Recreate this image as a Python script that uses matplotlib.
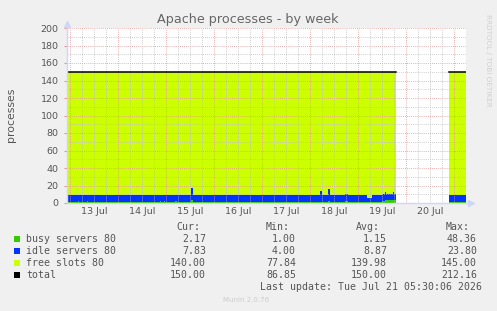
import numpy as np
import matplotlib
matplotlib.use('Agg')
import matplotlib.pyplot as plt
from matplotlib.transforms import blended_transform_factory

# Hours since 13 Jul 00:00, each value holds until the next breakpoint
hours = [-1.5, 4, 4.5, 8.5, 9, 45, 45.5, 47, 47.5, 52.5, 53.5, 60.5, 61.5,
         125, 126, 129, 130, 137.5, 139, 148.5, 151, 156, 157.5, 158,
         161.5, 162, 163, 189.5]
end_hour = 198

busy = [1.0, 2.0, 1.0, 2.0, 1.0, 2.0, 1.0, 2.0, 1.0, 2.5, 1.0, 4.0, 1.0,
        1.2, 1.0, 2.3, 1.0, 2.3, 1.0, 1.0, 1.0, 2.8, 3.5, 3.0,
        4.0, 3.0, np.nan, 1.2]
idle = [8.6, 7.6, 8.6, 7.6, 8.6, 7.6, 8.6, 7.6, 8.6, 7.1, 8.6, 13.0, 8.6,
        12.0, 8.6, 13.3, 8.6, 8.3, 8.6, 4.7, 7.8, 7.4, 9.5, 7.5,
        9.0, 7.5, np.nan, 8.3]
total = [150.0] * 26 + [np.nan, 150.0]

day_labels = ['13 Jul', '14 Jul', '15 Jul', '16 Jul', '17 Jul', '18 Jul', '19 Jul', '20 Jul']

legend_names = ['busy servers 80', 'idle servers 80', 'free slots 80', 'total']
legend_colors = ['#33CC00', '#0033FF', '#CCFF00', '#000000']
cur_vals = ['2.17', '7.83', '140.00', '150.00']
min_vals = ['1.00', '4.00', '77.84', '86.85']
avg_vals = ['1.15', '8.87', '139.98', '150.00']
max_vals = ['48.36', '23.80', '145.00', '212.16']

# step arrays
t = np.array(hours + [end_hour], dtype=float)
xs = np.repeat(t, 2)[1:-1]
b = np.repeat(np.array(busy), 2)
i = np.repeat(np.array(idle), 2)
tot = np.repeat(np.array(total), 2)
top_idle = b + i

W, H = 497, 311
fig = plt.figure(figsize=(W / 100, H / 100), dpi=100, facecolor='#F0F0F0')
ax = fig.add_axes([67 / W, 1 - 203 / H, 399 / W, 175 / H])
ax.set_facecolor('white')

ax.fill_between(xs, 0, b, color=legend_colors[0], linewidth=0)
ax.fill_between(xs, b, top_idle, color=legend_colors[1], linewidth=0)
ax.fill_between(xs, top_idle, tot, color=legend_colors[2], linewidth=0)
ax.plot(xs, tot, color='black', linewidth=1.1, zorder=4)

ax.set_xlim(-1.5, 198)
ax.set_ylim(0, 200)

# grid: minor grey, major red-ish
minor_c = '#BDBDBD'
major_c = '#E39595'
dots = (0, (1, 1.5))
for y in range(10, 200, 20):
    ax.axhline(y, color=minor_c, lw=0.6, ls=dots, zorder=3)
for y in range(20, 201, 20):
    ax.axhline(y, color=major_c, lw=0.6, ls=dots, zorder=3)
for x in range(0, 198, 6):
    if x % 24:
        ax.axvline(x, color=minor_c, lw=0.6, ls=dots, zorder=3)
for x in range(0, 198, 24):
    ax.axvline(x, color=major_c, lw=0.6, ls=dots, zorder=3)

ax.set_xticks([])
ax.set_yticks(range(0, 201, 20))
ax.tick_params(axis='y', length=2, color='#E39595', labelsize=6.8, labelcolor='#555555', pad=4)
for s in ax.spines.values():
    s.set_visible(False)

# x labels at noon
trans = blended_transform_factory(ax.transData, ax.transAxes)
for k, lab in enumerate(day_labels):
    ax.text(12 + 24 * k, -0.05, lab, transform=trans, ha='center', va='center',
            fontsize=6.8, color='#555555')

# axis lines with arrows
ax.plot([0, 1.01], [0, 0], transform=ax.transAxes, color='#CFD6F8', lw=1, clip_on=False, zorder=5)
ax.plot([0, 0], [0, 1.02], transform=ax.transAxes, color='#CFD6F8', lw=1, clip_on=False, zorder=5)
ax.plot([1.012], [0], transform=ax.transAxes, marker='>', ms=4, color='#CFD6F8', clip_on=False)
ax.plot([0], [1.025], transform=ax.transAxes, marker='^', ms=4, color='#CFD6F8', clip_on=False)

def fx(px):
    return px / W

def fy(py):
    return 1 - py / H

fig.text(fx(248), fy(19), 'Apache processes - by week', ha='center', va='center',
         fontsize=9.2, color='#666666')
fig.text(fx(11), fy(115), 'processes', rotation=90, ha='center', va='center',
         fontsize=7.8, color='#555555')
fig.text(fx(488), fy(60), 'RRDTOOL / TOBI OETIKER', rotation=270, ha='center', va='center',
         fontsize=5.2, color='#D0D0D0')

mono = 'DejaVu Sans Mono'
fs = 7.1
tc = '#555555'
for txt, px in [('Cur:', 200), ('Min:', 290), ('Avg:', 380), ('Max:', 470)]:
    fig.text(fx(px), fy(227), txt, ha='right', va='center', family=mono, fontsize=fs, color=tc)

row_y = [239, 251, 263, 275]
for k in range(4):
    y = row_y[k]
    fig.patches.append(plt.Rectangle((fx(14), fy(y + 3)), 6 / W, 6 / H, transform=fig.transFigure,
                                     facecolor=legend_colors[k], edgecolor='none'))
    fig.text(fx(26), fy(y), legend_names[k], ha='left', va='center', family=mono, fontsize=fs, color=tc)
    for vals, px in [(cur_vals, 206), (min_vals, 296), (avg_vals, 387), (max_vals, 477)]:
        fig.text(fx(px), fy(y), vals[k], ha='right', va='center', family=mono, fontsize=fs, color=tc)

fig.text(fx(482), fy(287), 'Last update: Tue Jul 21 05:30:06 2026', ha='right', va='center',
         family=mono, fontsize=fs, color=tc)
fig.text(fx(246), fy(300), 'Munin 2.0.76', ha='center', va='center', fontsize=5, color='#CCCCCC')

fig.savefig('out.png', dpi=100, facecolor=fig.get_facecolor())
